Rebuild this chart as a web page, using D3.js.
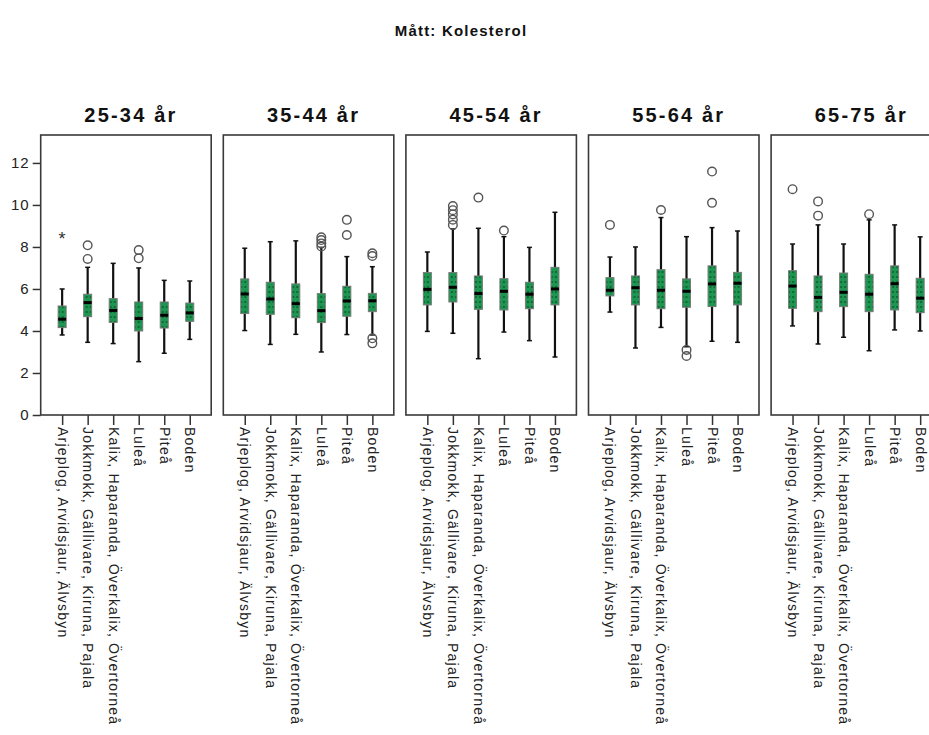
<!DOCTYPE html>
<html>
<head>
<meta charset="utf-8">
<script src="https://cdn.jsdelivr.net/npm/d3@7"></script>
<style>
  html, body { margin: 0; padding: 0; background: #fff; }
  svg { display: block; font-family: "Liberation Sans", Arial, sans-serif; }
</style>
</head>
<body>
<svg id="chart" width="929" height="735"></svg>
<script>
// Age groups (one panel each) and regions (one box per region)
const ageGroups = ["25-34 år", "35-44 år", "45-54 år", "55-64 år", "65-75 år"];
const regions = [
  "Arjeplog, Arvidsjaur, Älvsbyn",
  "Jokkmokk, Gällivare, Kiruna, Pajala",
  "Kalix, Haparanda, Överkalix, Övertorneå",
  "Luleå",
  "Piteå",
  "Boden"
];
const yTicks = [0, 2, 4, 6, 8, 10, 12];

// Box plot statistics per age group (rows) and region (columns), mmol/l
const whiskerLow = [
  [3.81, 3.46, 3.40, 2.54, 2.94, 3.60],
  [4.02, 3.36, 3.84, 3.00, 3.83, 3.81],
  [3.98, 3.89, 2.68, 3.95, 3.54, 2.76],
  [4.90, 3.19, 4.17, 3.25, 3.51, 3.46],
  [4.24, 3.38, 3.70, 3.06, 4.05, 4.00]
];
const quartile1 = [
  [4.16, 4.68, 4.41, 4.00, 4.14, 4.46],
  [4.83, 4.79, 4.63, 4.40, 4.70, 4.92],
  [5.24, 5.38, 5.03, 5.00, 5.06, 5.24],
  [5.67, 5.24, 5.06, 5.13, 5.16, 5.24],
  [5.08, 4.92, 5.16, 4.92, 5.00, 4.87]
];
const medians = [
  [4.56, 5.35, 4.98, 4.59, 4.75, 4.86],
  [5.76, 5.52, 5.30, 4.97, 5.43, 5.44],
  [5.98, 6.08, 5.78, 5.89, 5.75, 6.00],
  [5.94, 6.06, 5.94, 5.89, 6.24, 6.27],
  [6.14, 5.60, 5.84, 5.75, 6.25, 5.56]
];
const quartile3 = [
  [5.19, 5.75, 5.54, 5.38, 5.38, 5.33],
  [6.48, 6.32, 6.24, 5.78, 6.13, 5.79],
  [6.78, 6.78, 6.62, 6.49, 6.32, 7.03],
  [6.54, 6.62, 6.92, 6.48, 7.10, 6.79],
  [6.87, 6.62, 6.76, 6.70, 7.10, 6.51]
];
const whiskerHigh = [
  [6.00, 7.03, 7.22, 7.00, 6.41, 6.38],
  [7.94, 8.25, 8.29, 7.98, 7.54, 7.06],
  [7.76, 8.86, 8.89, 8.49, 7.98, 9.65],
  [7.52, 8.00, 9.40, 8.49, 8.92, 8.76],
  [8.14, 9.05, 8.14, 9.29, 9.05, 8.48]
];
const outliers = [
  [[], [7.43, 8.08], [], [7.46, 7.85], [], []],
  [[], [], [], [8.02, 8.17, 8.33, 8.46], [8.57, 9.29], [3.41, 3.65, 7.57, 7.70]],
  [[], [9.05, 9.30, 9.55, 9.75, 9.95], [10.35], [8.78], [], []],
  [[9.05], [], [9.76], [2.81, 3.10], [10.10, 11.59], []],
  [[10.75], [9.49, 10.17], [], [9.56], [], []]
];
const extremes = [
  [[8.41], [], [], [], [], []],
  [[], [], [], [], [], []],
  [[], [], [], [], [], []],
  [[], [], [], [], [], []],
  [[], [], [], [], [], []]
];

const svg = d3.select("#chart");

// Dotted green fill for the boxes
const defs = svg.append("defs");
const pat = defs.append("pattern")
  .attr("id", "greenDots")
  .attr("patternUnits", "userSpaceOnUse")
  .attr("width", 4).attr("height", 5);
pat.append("rect").attr("width", 4).attr("height", 5).attr("fill", "#1c9650");
pat.append("rect").attr("x", 1).attr("y", 1).attr("width", 2).attr("height", 2).attr("fill", "#0f6a35");

// Scales
const panelX = d3.scaleBand().domain(ageGroups).range([40.7, 941.6]).paddingInner(0.0663).paddingOuter(0);
const y = d3.scaleLinear().domain([0, 13.33]).range([415, 135]);
const x = d3.scalePoint().domain(regions).range([0, panelX.bandwidth()]).padding(0.84);

// Main title
svg.append("text")
  .attr("x", 461).attr("y", 36)
  .attr("text-anchor", "middle")
  .attr("font-size", 15).attr("font-weight", "bold")
  .attr("letter-spacing", 1.2)
  .attr("fill", "#111")
  .text("Mått: Kolesterol");

// Y axis on the first panel
const yAxis = svg.append("g")
  .attr("transform", `translate(${panelX(ageGroups[0])},0)`)
  .call(d3.axisLeft(y).tickValues(yTicks).tickSize(8).tickPadding(3).tickFormat(d3.format("d")));
yAxis.select(".domain").remove();
yAxis.selectAll(".tick line").attr("stroke", "#333").attr("stroke-width", 1.5);
yAxis.selectAll(".tick text")
  .attr("font-size", 15).attr("letter-spacing", 1)
  .attr("fill", "#222").attr("font-family", "Liberation Sans, Arial, sans-serif");

const boxW = 8;

ageGroups.forEach((age, gi) => {
  const g = svg.append("g").attr("transform", `translate(${panelX(age)},0)`);
  const w = panelX.bandwidth();

  // Panel title
  g.append("text")
    .attr("x", w / 2 + 5).attr("y", 122)
    .attr("text-anchor", "middle")
    .attr("font-size", 20).attr("font-weight", "bold")
    .attr("letter-spacing", 2.2)
    .attr("fill", "#111")
    .text(age);

  // Category axis with rotated labels
  const xAxis = g.append("g")
    .attr("transform", `translate(0,${y(0)})`)
    .call(d3.axisBottom(x).tickSize(10).tickSizeOuter(0));
  xAxis.select(".domain").remove();
  xAxis.selectAll(".tick line").attr("stroke", "#333").attr("stroke-width", 1.5);
  xAxis.selectAll(".tick text")
    .attr("transform", "rotate(90)")
    .attr("x", 12).attr("y", 5).attr("dy", 0)
    .attr("text-anchor", "start")
    .attr("font-size", 14).attr("letter-spacing", 1.2)
    .attr("fill", "#222").attr("font-family", "Liberation Sans, Arial, sans-serif");

  regions.forEach((reg, ri) => {
    const cx = x(reg);
    const lo = whiskerLow[gi][ri], hi = whiskerHigh[gi][ri];
    const q1 = quartile1[gi][ri], q3 = quartile3[gi][ri], md = medians[gi][ri];

    // Whiskers
    g.append("line")
      .attr("x1", cx).attr("x2", cx).attr("y1", y(hi)).attr("y2", y(lo))
      .attr("stroke", "#111").attr("stroke-width", 2.2);
    [lo, hi].forEach(v => {
      g.append("line")
        .attr("x1", cx - 2.5).attr("x2", cx + 2.5).attr("y1", y(v)).attr("y2", y(v))
        .attr("stroke", "#111").attr("stroke-width", 1.5);
    });

    // Box
    g.append("rect")
      .attr("x", cx - boxW / 2).attr("y", y(q3))
      .attr("width", boxW).attr("height", y(q1) - y(q3))
      .attr("fill", "url(#greenDots)")
      .attr("stroke", "#7a7a7a").attr("stroke-width", 1);

    // Median
    g.append("line")
      .attr("x1", cx - boxW / 2).attr("x2", cx + boxW / 2).attr("y1", y(md)).attr("y2", y(md))
      .attr("stroke", "#000").attr("stroke-width", 3);

    // Outliers
    outliers[gi][ri].forEach(v => {
      g.append("circle")
        .attr("cx", cx).attr("cy", y(v)).attr("r", 4.3)
        .attr("fill", "none").attr("stroke", "#555").attr("stroke-width", 1.4);
    });

    // Extreme values
    extremes[gi][ri].forEach(v => {
      g.append("text")
        .attr("x", cx).attr("y", y(v) + 7)
        .attr("text-anchor", "middle")
        .attr("font-size", 18).attr("fill", "#333")
        .text("*");
    });
  });

  // Panel frame
  g.append("rect")
    .attr("x", 0).attr("y", 135)
    .attr("width", w).attr("height", y(0) - 135)
    .attr("fill", "none").attr("stroke", "#3a3a3a").attr("stroke-width", 1.6);
});
</script>
</body>
</html>
